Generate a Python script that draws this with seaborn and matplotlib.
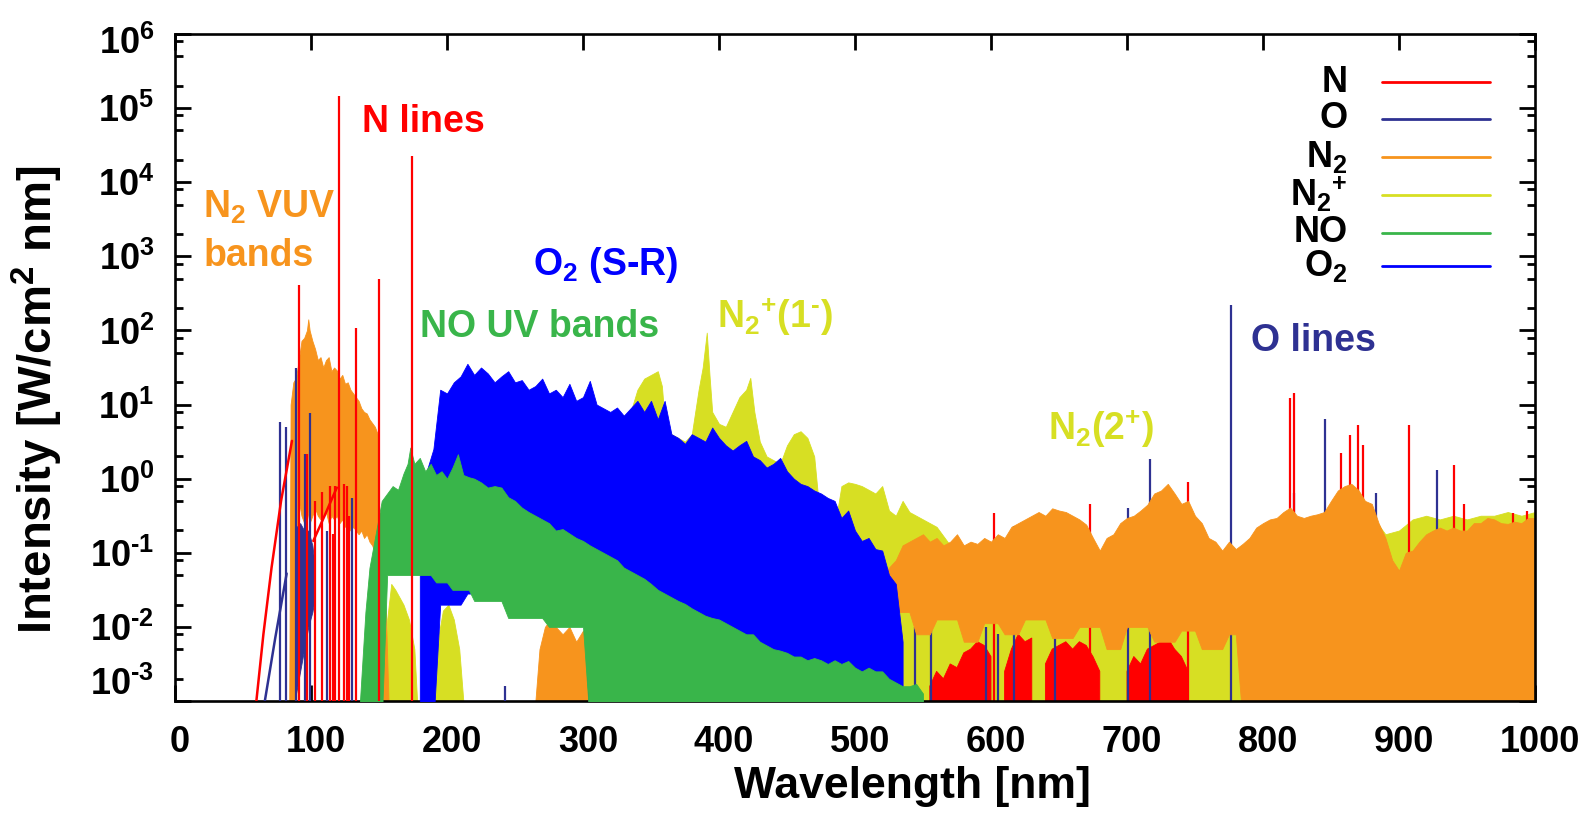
import numpy as np
import pandas as pd
import matplotlib
matplotlib.use("Agg")
import matplotlib.pyplot as plt
from matplotlib.lines import Line2D
from matplotlib.transforms import ScaledTranslation
from matplotlib.ticker import FixedLocator, FixedFormatter, LogLocator, NullFormatter, NullLocator
import seaborn as sns

# ---------------------------------------------------------------- data
# all intensities are stored as log10(W/cm^2 nm); NaN = no emission
# N2 VUV bands
n2_vuv_wl = [84, 85, 87, 89, 91, 93, 95, 97, 98, 99,
             101, 103, 105, 107, 109, 111, 113, 115, 117, 119, 121, 123, 125,
             127, 129, 131, 133, 135, 137, 139, 141, 143, 145, 147, 149,
             150, 152, 155, 157]
n2_vuv_top = [-3.0, 1.0, 1.3, 1.36, 1.6, 1.86, 1.9, 2.0, 2.15, 2.0,
              1.86, 1.75, 1.6, 1.64, 1.5, 1.6, 1.64, 1.45, 1.5, 1.46, 1.35, 1.4, 1.28,
              1.3, 1.2, 1.15, 1.1, 1.05, 0.95, 0.9, 0.88, 0.8, 0.75, 0.7, 0.6,
              -0.7, -1.4, -1.8, -3.0]
n2_vuv_low = [np.nan, np.nan, np.nan, np.nan, -0.3, -0.5, -0.6, -0.4, -0.5, -0.6,
              -0.5, -0.4, -0.5, -0.55, -0.5, -0.45, -0.6, -0.5, -0.55, -0.5, -0.6, -0.55, -0.65,
              -0.6, -0.7, -0.65, -0.7, -0.75, -0.7, -0.8, -0.75, -0.85, -0.9, -1.0, -1.1,
              np.nan, np.nan, np.nan, np.nan]

# weak N2 emission in the near UV
n2_uv_wl = [265, 268, 272, 276, 280, 285, 290, 295, 300, 305, 310, 315, 320, 325,
            330, 335, 340, 345, 350]
n2_uv_top = [-3.0, -2.3, -2.0, -1.9, -2.0, -2.1, -2.0, -2.2, -2.05, -2.2, -2.3, -2.2,
             -2.4, -2.3, -2.5, -2.5, -2.7, -2.8, -3.0]

# N2 first/second positive systems, visible - near IR (500-1000 nm, 5 nm bins)
n2_ir_wl = np.arange(500, 1001, 5)
n2_ir_top = [-2.5, -2.0, -1.8, -1.6, -1.3, -1.2,
             -1.1, -0.9, -0.85, -0.8, -0.75, -0.85, -0.8, -0.9, -0.85, -0.75,
             -0.9, -0.85, -0.88, -0.8, -0.85, -0.75, -0.8, -0.65, -0.6, -0.55,
             -0.5, -0.45, -0.5, -0.4, -0.43, -0.45, -0.5, -0.55, -0.62, -0.8,
             -0.97, -0.8, -0.75, -0.6, -0.53, -0.5, -0.43, -0.35, -0.2, -0.16,
             -0.07, -0.2, -0.34, -0.3, -0.5, -0.6, -0.8, -0.85, -0.97, -0.85,
             -0.95, -0.88, -0.8, -0.66, -0.6, -0.55, -0.53, -0.45, -0.39, -0.5,
             -0.53, -0.5, -0.48, -0.45, -0.3, -0.16, -0.1, -0.07, -0.15, -0.3,
             -0.34, -0.6, -0.8, -1.1, -1.24, -1.0, -0.97, -0.85, -0.75, -0.7,
             -0.66, -0.7, -0.66, -0.7, -0.7, -0.6, -0.6, -0.53, -0.55, -0.6,
             -0.61, -0.58, -0.6, -0.53, -0.53]
# lower edge of the dense N2 band body: (from nm, to nm, log10 level)
n2_ir_floor = [(530, 540, -1.8), (545, 555, -2.1), (560, 575, -1.9), (580, 590, -2.2),
               (595, 605, -1.95), (610, 620, -2.1), (625, 640, -1.9), (645, 660, -2.15),
               (665, 680, -2.0), (685, 695, -2.3), (700, 715, -2.0), (720, 735, -2.2),
               (740, 750, -2.05), (755, 770, -2.3), (775, 780, -2.1)]

# N2+ first negative (and Meinel) bands
n2p_wl = [300, 310, 320, 325, 330, 335, 340, 345, 350, 355, 358, 360, 365, 370,
          375, 380, 385, 388, 391, 393, 395, 400, 405, 410, 415, 420, 423, 426,
          430, 435, 440, 445, 450, 455, 460, 465, 470, 475, 480, 485, 490, 495,
          500, 505, 510, 515, 520, 525, 530, 535, 540, 545, 550, 555, 560,
          570, 580, 590, 600, 610, 620, 630, 640, 650, 660, 670, 680, 690, 700,
          710, 720, 730, 740, 750, 760, 770, 780, 790, 800, 810, 820, 830, 840,
          850, 860, 870, 880, 890, 900, 910, 920, 930, 940, 950, 960, 970, 980,
          990, 1000]
n2p_top = [-3.0, -2.0, -1.0, 0.88, 0.85, 0.9, 1.2, 1.35, 1.4, 1.45, 1.25, 0.8, 0.6, 0.55,
           0.5, 0.6, 1.2, 1.5, 1.97, 1.4, 0.9, 0.74, 0.7, 0.9, 1.1, 1.2, 1.36, 0.9,
           0.5, 0.3, 0.25, 0.2, 0.45, 0.6, 0.64, 0.55, 0.3, -0.66, -0.6, -0.66, -0.1, -0.05,
           -0.07, -0.1, -0.15, -0.2, -0.1, -0.43, -0.5, -0.3, -0.45, -0.5, -0.55, -0.6, -0.65,
           -0.9, -1.0, -1.0, -1.0, -0.9, -0.8, -0.7, -0.7, -0.6, -0.7, -0.8, -1.0, -0.9, -0.8,
           -0.7, -0.5, -0.4, -0.5, -0.7, -0.9, -1.0, -1.0, -0.9, -0.8, -0.7, -0.6, -0.7, -0.7,
           -0.5, -0.4, -0.4, -0.5, -0.75, -0.7, -0.55, -0.5, -0.55, -0.5, -0.55, -0.5, -0.5,
           -0.45, -0.5, -0.45]
# weak N2+ bumps in the far UV
n2p_a_wl = [153, 156, 159, 162, 165, 168, 172, 176, 178]
n2p_a_top = [-3.0, -1.9, -1.42, -1.5, -1.6, -1.7, -1.9, -2.3, -3.0]
n2p_b_wl = [190, 193, 197, 201, 205, 209, 212]
n2p_b_top = [-3.0, -2.2, -1.78, -1.7, -1.9, -2.3, -3.0]

# NO gamma/beta UV bands
no_wl = np.r_[[136, 140, 143, 146, 149, 152, 156, 160, 164, 168, 171, 173, 176,
               180, 184, 188, 192, 196, 200, 204, 208, 212, 216, 220],
              np.arange(225, 551, 5)]
no_top = [-3.0, -1.8, -1.2, -0.9, -0.6, -0.3, -0.2, -0.1, -0.15, 0.07, 0.2, 0.42, 0.2,
          0.28, 0.1, 0.2, 0.05, 0.1, 0.0, 0.15, 0.33, 0.05, 0.02, 0.0,
          -0.05, -0.12, -0.1, -0.12, -0.25, -0.3, -0.39, -0.45, -0.5, -0.55,
          -0.6, -0.7, -0.68, -0.74, -0.8, -0.84, -0.9, -0.95, -1.0, -1.05,
          -1.1, -1.2, -1.25, -1.3, -1.35, -1.42, -1.5, -1.55, -1.6, -1.65,
          -1.69, -1.75, -1.8, -1.85, -1.88, -1.9, -1.95, -2.0, -2.05, -2.1,
          -2.1, -2.2, -2.25, -2.3, -2.32, -2.35, -2.4, -2.4, -2.45, -2.42,
          -2.45, -2.5, -2.45, -2.5, -2.46, -2.55, -2.6, -2.55, -2.6, -2.6,
          -2.7, -2.75, -2.8, -2.8, -2.77, -2.9]
no_floor = [(156, 176, -1.3), (180, 188, -1.3), (192, 200, -1.4), (204, 216, -1.5),
            (220, 240, -1.65), (245, 270, -1.88), (275, 300, -2.0)]

# O2 Schumann-Runge bands
o2_wl = np.arange(180, 536, 5)
o2_top = [-0.5, 0.1, 0.4, 1.2, 1.15, 1.3, 1.38, 1.55, 1.4, 1.5, 1.42, 1.3, 1.38, 1.45,
          1.3, 1.33, 1.2, 1.25, 1.35, 1.15, 1.2, 1.1, 1.28, 1.05, 1.1, 1.32, 1.0, 0.95,
          0.9, 0.96, 0.85, 0.95, 1.05, 0.9, 1.05, 0.8, 1.05, 0.6, 0.55, 0.47, 0.6, 0.55,
          0.5, 0.69, 0.55, 0.45, 0.38, 0.45, 0.51, 0.3, 0.25, 0.15, 0.2, 0.28, 0.1, 0.0,
          -0.07, -0.1, -0.16, -0.2, -0.26, -0.3, -0.53, -0.43, -0.7, -0.84, -0.8, -0.95,
          -0.97, -1.3, -1.42, -2.2]
o2_floor = [(195, 210, -1.7), (215, 240, -1.55), (245, 265, -1.45), (270, 300, -1.6)]

# atomic lines: wavelength [nm], peak log10 intensity
n_line_wl = [91.5, 97, 103, 108, 114, 116, 118, 120.5, 124, 126.5, 128, 133, 150, 174.5]
n_line_top = [2.61, 0.33, -0.3, -0.18, -0.1, -0.74, -0.1, 5.16, -0.07, -0.1, -0.5, 2.03, 2.69, 4.36]
n_ir_line_wl = [602, 673, 745, 820, 823, 857, 864, 870, 873.5, 907, 940.5, 948, 984, 994]
n_ir_line_top = [-0.46, -0.34, -0.05, 1.09, 1.15, 0.35, 0.59, 0.72, 0.45, 0.72, 0.18, -0.34, -0.46, -0.43]
o_line_wl = [77, 81.6, 89, 95.6, 99, 112, 130, 243]
o_line_top = [0.76, 0.7, 1.5, 0.33, 0.88, -0.7, -0.26, -2.8]
o_ir_line_wl = [544, 556, 596, 605, 617, 647, 701, 717, 776.6, 823, 845.6, 883, 928]
o_ir_line_top = [-2.0, -2.0, -2.0, -2.1, -0.64, -2.0, -0.39, 0.27, 2.34, -0.2, 0.81, -0.2, 0.12]

# weak N multiplets under the N2 bands
n_low_wl = np.arange(555, 766, 5)
n_low_top = [-2.8, -2.6, -2.7, -2.5, -2.55, -2.35, -2.3, -2.2, -2.25, -2.4, np.nan,
             -2.6, -2.3, -2.1, -2.2, -2.15, np.nan, -2.5, -2.3, -2.25, -2.2, -2.3,
             -2.2, -2.25, -2.4, -2.6, np.nan, np.nan, np.nan, -2.6, -2.4, -2.5, -2.3,
             -2.25, -2.2, -2.15, -2.3, -2.4, -2.6, np.nan, np.nan, np.nan, np.nan]

# O dense VUV multiplet structure
o_vuv_wl = [89, 92, 95, 98, 101, 103]
o_vuv_top = [-0.66, -0.6, -0.7, -0.7, -0.9, -1.2]
o_vuv_low = [-2.9, -2.6, -2.3, -2.0, -1.8, -1.6]

# continuum-like wings
n_cont_wl = [59.6, 65, 71, 78, 86]
n_cont = [-3.04, -2.1, -1.2, -0.3, 0.51]
n_cont2_wl = [101.7, 110, 119]
n_cont2 = [-0.84, -0.5, -0.12]
o_cont_wl = [65.7, 73.8, 82.1]
o_cont = [-3.04, -2.14, -1.28]

species = ["N", "O", "N$_2$", r"N$_2{}^{\text{+}}$", "NO", "O$_2$"]
colors = ["#ff0000", "#2e3192", "#f7941d", "#d7df23", "#39b54a", "#0000ff"]
C_N, C_O, C_N2, C_N2P, C_NO, C_O2 = colors

xticks = list(range(0, 1001, 100))
ytick_exp = list(range(-3, 7))

# ---------------------------------------------------------------- style
sns.set_theme(style="ticks")
plt.rcParams["font.family"] = ["Liberation Sans", "DejaVu Sans"]
plt.rcParams["font.weight"] = "bold"
plt.rcParams["axes.labelweight"] = "bold"
plt.rcParams["mathtext.fontset"] = "custom"
for key in ("rm", "it", "bf", "sf"):
    plt.rcParams["mathtext." + key] = "Liberation Sans:bold"
plt.rcParams["mathtext.default"] = "rm"

FLOOR_LOG = -3.3


def to_lin(v):
    v = np.asarray(v, dtype=float)
    return 10.0 ** np.where(np.isnan(v), FLOOR_LOG, v)


def band(ax, wl, top, color, low=None, floors=None, z=1):
    wl = np.asarray(wl, dtype=float)
    top = np.asarray(top, dtype=float)
    lo = np.full_like(top, np.nan) if low is None else np.asarray(low, dtype=float).copy()
    if floors:
        for a, b, v in floors:
            lo[(wl >= a) & (wl <= b)] = v
    ax.fill_between(wl, to_lin(lo), to_lin(top), where=~np.isnan(top),
                    color=color, lw=0.6, edgecolor=color, zorder=z)


def lines(ax, wl, top, color, z, lw=1.6):
    ax.vlines(wl, 10.0 ** FLOOR_LOG, to_lin(top), color=color, lw=lw, zorder=z)


def wing(ax, wl, vals, color, z):
    df = pd.DataFrame({"wl": wl, "I": to_lin(vals)})
    sns.lineplot(data=df, x="wl", y="I", ax=ax, color=color, lw=1.8,
                 legend=False, zorder=z, sort=False)


fig = plt.figure(figsize=(15.85, 8.13), dpi=100)
ax = fig.add_axes([0.11041, 0.13776, 0.85804, 0.82042])
ax.set_yscale("log")

# back to front
band(ax, n2p_wl, n2p_top, C_N2P, z=1.0)
band(ax, n2p_a_wl, n2p_a_top, C_N2P, z=1.0)
band(ax, n2p_b_wl, n2p_b_top, C_N2P, z=1.0)
band(ax, n_low_wl, n_low_top, C_N, z=1.2)
lines(ax, o_ir_line_wl, o_ir_line_top, C_O, z=1.4)
lines(ax, n_ir_line_wl, n_ir_line_top, C_N, z=1.5)
band(ax, n2_uv_wl, n2_uv_top, C_N2, z=2.0)
band(ax, n2_ir_wl, n2_ir_top, C_N2, floors=n2_ir_floor, z=2.0)
band(ax, n2_vuv_wl, n2_vuv_top, C_N2, low=n2_vuv_low, z=2.0)
band(ax, o2_wl, o2_top, C_O2, floors=o2_floor, z=3.0)
band(ax, no_wl, no_top, C_NO, floors=no_floor, z=4.0)
band(ax, o_vuv_wl, o_vuv_top, C_O, low=o_vuv_low, z=5.0)
wing(ax, o_cont_wl, o_cont, C_O, z=5.1)
lines(ax, o_line_wl, o_line_top, C_O, z=5.2)
wing(ax, n_cont_wl, n_cont, C_N, z=6.0)
wing(ax, n_cont2_wl, n_cont2, C_N, z=6.0)
lines(ax, n_line_wl, n_line_top, C_N, z=6.2)

# ---------------------------------------------------------------- axes
ax.set_xlim(0, 1000)
ax.set_ylim(1e-3, 1e6)
ax.set_xticks(xticks)
ax.set_xticklabels([str(t) for t in xticks])
ax.xaxis.set_minor_locator(NullLocator())
ax.yaxis.set_major_locator(FixedLocator([10.0 ** e for e in ytick_exp]))
ax.yaxis.set_major_formatter(FixedFormatter([r"10$^{\text{%d}}$" % e for e in ytick_exp]))
ax.yaxis.set_minor_locator(LogLocator(base=10, subs=(2, 5, 8), numticks=100))
ax.yaxis.set_minor_formatter(NullFormatter())
ax.tick_params(which="both", direction="in", top=True, right=True,
               color="black", width=2)
ax.tick_params(which="major", length=11.5, labelsize=26, labelcolor="black")
ax.tick_params(which="minor", length=6)
ax.tick_params(axis="x", which="major", pad=17)
ax.tick_params(axis="y", which="major", pad=15)
for sp in ax.spines.values():
    sp.set_visible(True)
    sp.set_color("black")
    sp.set_linewidth(1.9)
ax.set_facecolor("white")
ax.grid(False)

# x labels sit a little right of their ticks; end labels of the y axis sit inside the frame
for t in ax.xaxis.get_major_ticks():
    t.label1.set_transform(t.label1.get_transform()
                           + ScaledTranslation(0.05, 0, fig.dpi_scale_trans))
ymaj = ax.yaxis.get_major_ticks()
ymaj[0].label1.set_transform(ymaj[0].label1.get_transform()
                             + ScaledTranslation(0, 0.20, fig.dpi_scale_trans))
ymaj[-1].label1.set_transform(ymaj[-1].label1.get_transform()
                              + ScaledTranslation(0, -0.06, fig.dpi_scale_trans))

ax.set_xlabel("Wavelength [nm]", fontsize=32, fontweight="bold", color="black")
ax.set_ylabel("Intensity [W/cm$^2$ nm]", fontsize=34, fontweight="bold", color="black")
ax.xaxis.set_label_coords(0.542, -0.097)
ax.yaxis.set_label_coords(-0.081, 0.451)

# ---------------------------------------------------------------- annotations
notes = [
    ("N$_2$ VUV", 20.6, 3.66, C_N2),
    ("bands", 20.6, 3.01, C_N2),
    ("N lines", 137.5, 4.81, C_N),
    ("O$_2$ (S-R)", 263, 2.88, C_O2),
    ("NO UV bands", 180, 2.05, C_NO),
    (r"N$_2{}^{\text{+}}$(1$^{\text{-}}$)", 398.5, 2.19, C_N2P),
    (r"N$_2$(2$^{\text{+}}$)", 642, 0.68, C_N2P),
    ("O lines", 791, 1.86, C_O),
]
for txt, x, ylog, c in notes:
    ax.text(x, 10.0 ** ylog, txt, color=c, fontsize=27, fontweight="bold",
            ha="left", va="center", zorder=10)

# ---------------------------------------------------------------- key
key_rows = [0.928, 0.873, 0.816, 0.759, 0.702, 0.652]
for name, c, yk in zip(species, colors, key_rows):
    ax.add_line(Line2D([0.8875, 0.967], [yk, yk], transform=ax.transAxes,
                       color=c, lw=2, zorder=11))
    ax.text(0.862, yk, name, transform=ax.transAxes, ha="right", va="center",
            fontsize=26, fontweight="bold", color="black", zorder=11)

fig.savefig("out.png", dpi=100, facecolor="white")
